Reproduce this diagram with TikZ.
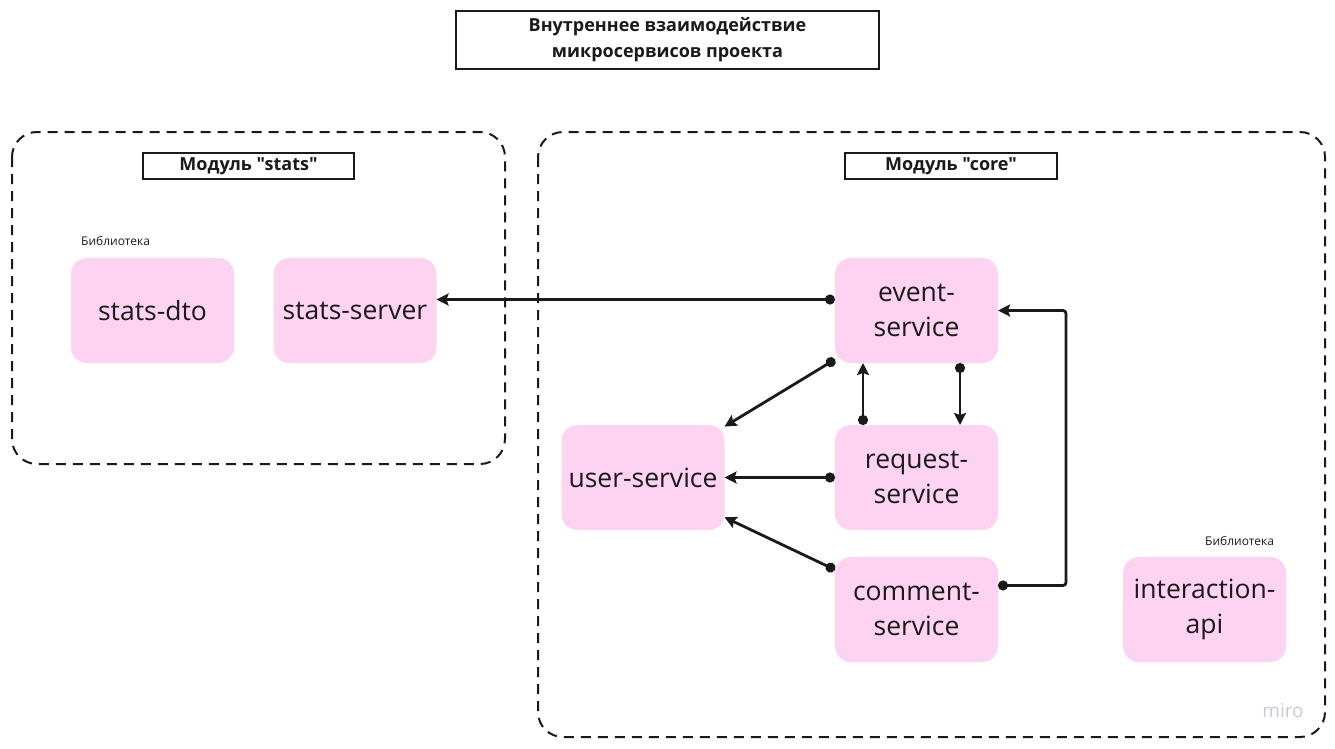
\documentclass[tikz,border=0pt]{standalone}
\usepackage{fontspec}
\setmainfont{Open Sans}[Ligatures=TeXOff]
\usetikzlibrary{arrows.meta}

\definecolor{boxpink}{RGB}{254,210,241}
\definecolor{ink}{RGB}{26,26,26}
\definecolor{mirogray}{RGB}{200,200,214}

\tikzset{
  service/.style={rounded corners=16pt, fill=boxpink, text=ink, minimum width=163pt,
    minimum height=105pt, align=center, inner sep=0pt, outer sep=0pt,
    font=\fontsize{26.5}{35}\selectfont},
  module/.style={draw=ink, dashed, line width=2pt, dash pattern=on 10pt off 7pt,
    rounded corners=25pt},
  caption/.style={draw=ink, line width=2pt, inner sep=0pt, outer sep=0pt, align=center,
    text=ink},
  note/.style={text=ink, font=\fontsize{12}{14}\selectfont, anchor=west, inner sep=0pt},
  link/.style={draw=ink, line width=2.8pt, {Circle[length=10pt]}-{Stealth[length=12pt,width=12pt,inset=2pt]}}
}

\begin{document}
\begin{tikzpicture}[x=1pt,y=-1pt]
        \useasboundingbox (0,0) rectangle (1335,748);
        % title
        \node[caption, minimum width=423pt, minimum height=58pt,
          font=\bfseries\fontsize{18}{26}\selectfont] (title) at (667.5,40)
          {Внутреннее взаимодействие\\микросервисов проекта};
        % modules
        \draw[module] (12,132) rectangle (505,464);
        \draw[module] (538,132) rectangle (1325,737);
        \node[caption, minimum width=211pt, minimum height=26pt,
          font=\bfseries\fontsize{18}{20}\selectfont] (statslabel) at (248.5,166) {Модуль "stats"};
        \node[caption, minimum width=212pt, minimum height=26pt,
          font=\bfseries\fontsize{18}{20}\selectfont] (corelabel) at (951,166) {Модуль "core"};
        % vertices
        \node[service] (statsdto) at (152.5,310.5) {stats-dto};
        \node[service] (statsserver) at (355,310.5) {stats-server};
        \node[service] (event) at (916.5,310.5) {event-\\service};
        \node[service] (user) at (643,477.5) {user-service};
        \node[service] (request) at (916.5,477.5) {request-\\service};
        \node[service] (comment) at (916.5,609.5) {comment-\\service};
        \node[service] (interaction) at (1204.5,609.5) {interaction-\\api};
        % notes
        \node[note] (statsnote) at (81,241) {Библиотека};
        \node[note] (interactionnote) at (1205,541) {Библиотека};
        \node[text=mirogray, font=\fontsize{19}{20}\selectfont] (miro) at (1283,711) {miro};
        % edges
        \draw[link] ([yshift=11pt]event.west) -- ([yshift=11pt]statsserver.east);
        \draw[link] (event.211) -- (user.32);
        \draw[link] ([xshift=28pt]request.north west) -- ([xshift=28pt]event.south west);
        \draw[link] ([xshift=-38pt]event.south east) -- ([xshift=-38pt]request.north east);
        \draw[link] (request.west) -- (user.east);
        \draw[link] (comment.154) -- (user.-26);
        \draw[link, rounded corners=3pt] ([yshift=24pt]comment.east) -- ++(68,0) |- (event.east);
      \end{tikzpicture}
\end{document}
